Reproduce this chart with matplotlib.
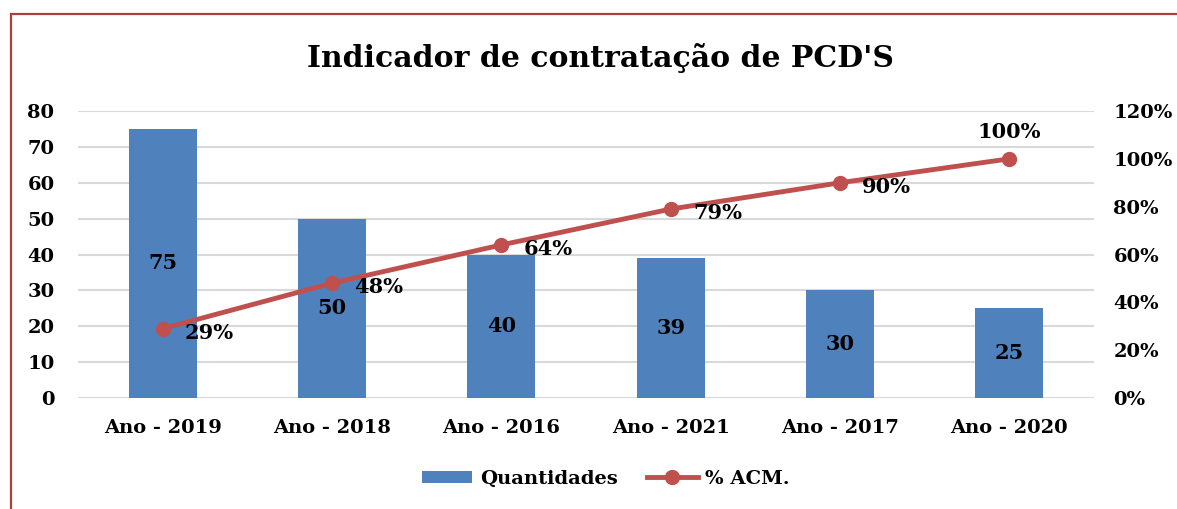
import matplotlib.pyplot as plt
from matplotlib.patches import Rectangle
from matplotlib.ticker import FuncFormatter

anos = ["Ano - 2019", "Ano - 2018", "Ano - 2016", "Ano - 2021", "Ano - 2017", "Ano - 2020"]
quantidades = [75, 50, 40, 39, 30, 25]
pct_acm = [0.29, 0.48, 0.64, 0.79, 0.90, 1.00]

azul = "#4F81BD"
vermelho = "#C0504D"
fonte = "DejaVu Serif"

plt.rcParams["font.family"] = fonte
plt.rcParams["font.weight"] = "bold"

fig = plt.figure(figsize=(11.77, 5.09), dpi=100)
ax = fig.add_axes([78 / 1177, 1 - 398 / 509, (1094 - 78) / 1177, 287 / 509])

# moldura vermelha (cortada à direita e em baixo)
fig.patches.append(Rectangle((11 / 1177, -0.1), 1.2, 1 - 14 / 509 + 0.1,
                             transform=fig.transFigure, fill=False,
                             edgecolor="#A5403C", linewidth=1.6))

x = list(range(len(anos)))
ax.bar(x, quantidades, width=0.4, color=azul, zorder=2, label="Quantidades")
ax.set_ylim(0, 80)
ax.set_xlim(-0.5, len(anos) - 0.5)
ax.set_yticks(range(0, 81, 10))
ax.set_xticks(x)
ax.set_xticklabels(anos)
ax.grid(axis="y", color="#D9D9D9", linewidth=1.5, zorder=0)
for s in ax.spines.values():
    s.set_visible(False)
ax.axhline(0, color="#D9D9D9", linewidth=1.5, zorder=1)
ax.tick_params(length=0, labelsize=14)
ax.tick_params(axis="y", pad=17)
ax.tick_params(axis="x", pad=15)

for xi, q in zip(x, quantidades):
    ax.text(xi, q / 2, str(q), ha="center", va="center", fontsize=15, fontweight="bold")

ax2 = ax.twinx()
ax2.plot(x, pct_acm, color=vermelho, linewidth=3.5, marker="o", markersize=10,
         zorder=3, label="% ACM.")
ax2.set_ylim(0, 1.2)
ax2.set_yticks([0, 0.2, 0.4, 0.6, 0.8, 1.0, 1.2])
ax2.yaxis.set_major_formatter(FuncFormatter(lambda v, p: f"{v * 100:.0f}%"))
for s in ax2.spines.values():
    s.set_visible(False)
ax2.tick_params(length=0, labelsize=14, pad=14)

for i, (xi, p) in enumerate(zip(x, pct_acm)):
    if i == len(x) - 1:
        ax2.annotate(f"{p * 100:.0f}%", (xi, p), xytext=(0, 12), textcoords="offset points",
                     ha="center", va="bottom", fontsize=15, fontweight="bold")
    else:
        ax2.annotate(f"{p * 100:.0f}%", (xi, p), xytext=(16, -3), textcoords="offset points",
                     ha="left", va="center", fontsize=15, fontweight="bold")

fig.text(600 / 1177, 1 - 58 / 509, "Indicador de contratação de PCD'S",
         ha="center", va="center", fontsize=21.5, fontweight="bold")

h1, l1 = ax.get_legend_handles_labels()
h2, l2 = ax2.get_legend_handles_labels()
fig.legend(h1 + h2, l1 + l2, loc="center", bbox_to_anchor=(606 / 1177, 1 - 479 / 509),
           ncol=2, frameon=False, fontsize=14, handlelength=2.6, handleheight=0.6,
           handletextpad=0.4, columnspacing=1.5)

fig.savefig("out.png", dpi=100)
